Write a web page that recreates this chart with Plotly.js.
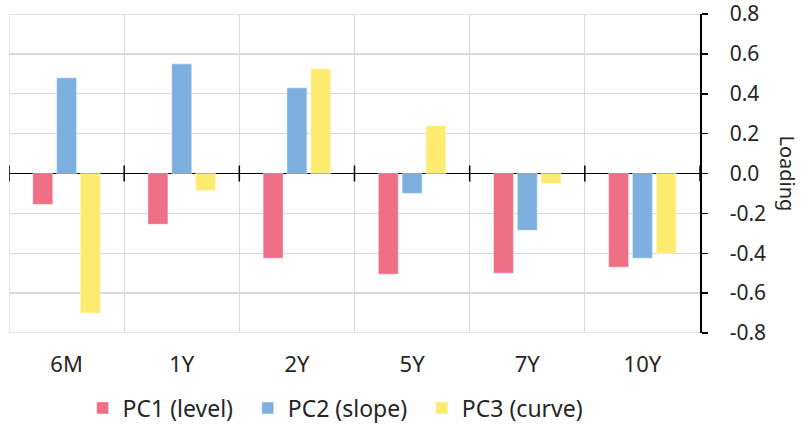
<!DOCTYPE html>
<html>
<head>
<meta charset="utf-8">
<script src="https://cdn.plot.ly/plotly-3.0.1.min.js"></script>
<style>html,body{margin:0;padding:0;background:#fff;}#chart{width:801px;height:425px;}</style>
</head>
<body>
<div id="chart"></div>
<script>
const categories = ["6M", "1Y", "2Y", "5Y", "7Y", "10Y"];
const seriesNames = ["PC1 (level)", "PC2 (slope)", "PC3 (curve)"];
const pc1 = [-0.155, -0.255, -0.425, -0.505, -0.50, -0.47];
const pc2 = [0.48, 0.55, 0.43, -0.10, -0.285, -0.425];
const pc3 = [-0.70, -0.085, 0.525, 0.24, -0.05, -0.40];
const yTicks = [-0.8, -0.6, -0.4, -0.2, 0.0, 0.2, 0.4, 0.6, 0.8];
const yTickText = ["-0.8", "-0.6", "-0.4", "-0.2", "0.0", "0.2", "0.4", "0.6", "0.8"];
const colors = ["#EF6F87", "#7EB0DF", "#FFEB70"];

const FONT = "Noto Sans, Open Sans, sans-serif";
const TXT = "#262626";
const FS = 22;
const GRID = "#D9D9D9";
const legendX = [0.1065, 0.3455, 0.5975];
const legendIds = ["legend", "legend2", "legend3"];

const traces = [pc1, pc2, pc3].map((vals, i) => ({
  type: "bar",
  name: seriesNames[i],
  legend: legendIds[i],
  x: categories,
  y: vals,
  marker: {color: colors[i], line: {color: "rgba(255,255,255,0.45)", width: 1}},
  hoverinfo: "skip"
}));

const shapes = [];
// tick marks crossing the zero line at category boundaries
for (let k = 0; k <= categories.length; k++) {
  shapes.push({type: "line", xref: "x", yref: "y", x0: k - 0.5, x1: k - 0.5, y0: -0.04, y1: 0.04,
    line: {color: "#000", width: 1.5}});
}
// edge gridlines (Plotly drops gridlines sitting on the range ends)
const yMin = yTicks[0], yMax = yTicks[yTicks.length - 1];
[yMin, yMax].forEach(v => shapes.push({type: "line", layer: "below", xref: "x", yref: "y",
  x0: -0.5, x1: categories.length - 0.5, y0: v, y1: v, line: {color: GRID, width: 1.3}}));
shapes.push({type: "line", layer: "below", xref: "x", yref: "y",
  x0: -0.5, x1: -0.5, y0: yMin, y1: yMax, line: {color: GRID, width: 1.3}});

function mkLegend(x) {
  return {orientation: "h", x: x, xanchor: "left", yref: "container", y: 0.04, yanchor: "middle",
    font: {family: FONT, size: 23, color: TXT}, itemwidth: 30, bgcolor: "rgba(0,0,0,0)"};
}

const layout = {
  width: 801, height: 425,
  margin: {l: 9, r: 101, t: 14, b: 92, autoexpand: false},
  paper_bgcolor: "#fff", plot_bgcolor: "#fff",
  font: {family: FONT, color: TXT, size: FS},
  barmode: "group",
  bargap: 0.38,
  bargroupgap: 0.16,
  showlegend: true,
  legend: mkLegend(legendX[0]),
  legend2: mkLegend(legendX[1]),
  legend3: mkLegend(legendX[2]),
  xaxis: {
    type: "category",
    tickson: "boundaries",
    showgrid: true, gridcolor: GRID, gridwidth: 1.3,
    ticks: "", showline: false, zeroline: false,
    ticklabelstandoff: 16,
    tickfont: {family: FONT, size: FS, color: TXT},
    range: [-0.5, 5.5]
  },
  yaxis: {
    side: "right",
    range: [yMin, yMax],
    tickvals: yTicks, ticktext: yTickText,
    showgrid: true, gridcolor: GRID, gridwidth: 1.3,
    showline: true, linecolor: "#000", linewidth: 1.5,
    ticks: "outside", ticklen: 6, tickcolor: "#000", tickwidth: 1.5,
    ticklabelstandoff: 18,
    ticklabeloverflow: "allow",
    zeroline: true, zerolinecolor: "#000", zerolinewidth: 1.5,
    tickfont: {family: FONT, size: 21, color: TXT}
  },
  shapes: shapes,
  annotations: [{
    text: "Loading", xref: "paper", yref: "y", x: 1, y: 0, xshift: 87, xanchor: "center",
    showarrow: false, textangle: 90, font: {family: FONT, size: 20, color: TXT}
  }]
};

Plotly.newPlot("chart", traces, layout, {displayModeBar: false, staticPlot: true});
</script>
</body>
</html>
